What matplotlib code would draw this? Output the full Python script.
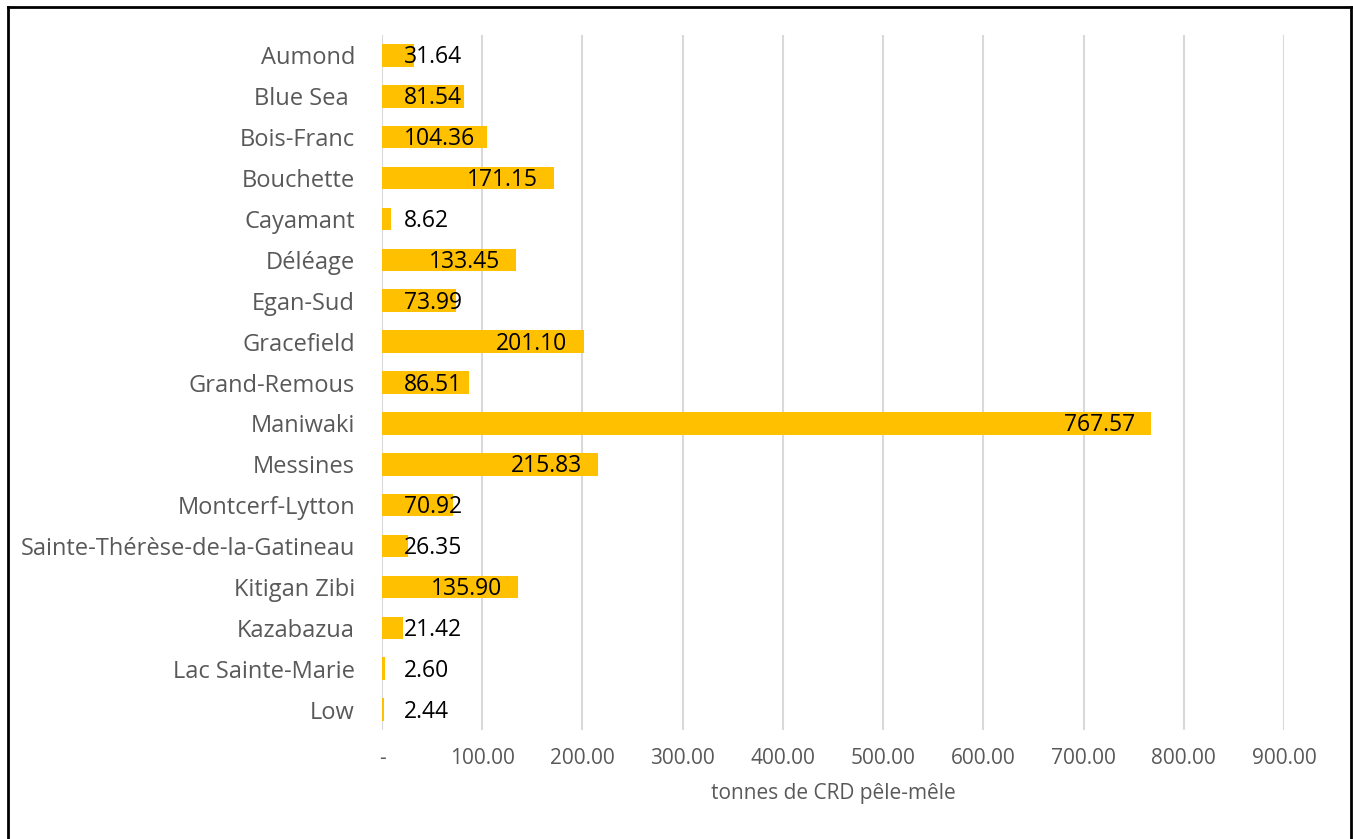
import matplotlib.pyplot as plt
import matplotlib.transforms as mtransforms
from matplotlib.lines import Line2D

#------------
# Datos
#------------
municipalites = [
    "Aumond", "Blue Sea ", "Bois-Franc", "Bouchette", "Cayamant", "Déléage",
    "Egan-Sud", "Gracefield", "Grand-Remous", "Maniwaki", "Messines",
    "Montcerf-Lytton", "Sainte-Thérèse-de-la-Gatineau", "Kitigan Zibi",
    "Kazabazua", "Lac Sainte-Marie", "Low",
]
tonnes = [
    31.64, 81.54, 104.36, 171.15, 8.62, 133.45, 73.99, 201.10, 86.51,
    767.57, 215.83, 70.92, 26.35, 135.90, 21.42, 2.60, 2.44,
]
x_ticks = [0, 100, 200, 300, 400, 500, 600, 700, 800, 900]
x_tick_labels = ["-"] + [f"{t:.2f}" for t in x_ticks[1:]]
x_label = "tonnes de CRD pêle-mêle"

plt.rcParams["font.family"] = ["Open Sans", "DejaVu Sans"]

W, H = 1353, 839
fig = plt.figure(figsize=(W / 100, H / 100), dpi=100)
ax = fig.add_axes([382 / W, 1 - 730 / H, (1284 - 382) / W, (730 - 35) / H])

pos = list(range(len(municipalites)))
ax.barh(pos, tonnes, height=0.55, color="#FFC000", zorder=2)

ax.set_ylim(len(municipalites) - 0.5, -0.5)
ax.set_xlim(0, 900)
ax.set_yticks(pos)
ax.set_yticklabels(municipalites, fontsize=17, color="#595959")
ax.set_xticks(x_ticks)
ax.set_xticklabels(x_tick_labels, fontsize=15, color="#595959")
ax.set_xlabel(x_label, fontsize=15, color="#595959", labelpad=10)
ax.tick_params(axis="both", length=0)
ax.tick_params(axis="y", pad=19.5)
ax.tick_params(axis="x", pad=13)

ax.grid(axis="x", color="#D9D9D9", linewidth=1.5, zorder=0)
for s in ax.spines.values():
    s.set_visible(False)

#--------------------------------------------------------------
# Etiquetas de valor: extremo interior, sin bajar de un mínimo
#--------------------------------------------------------------
renderer = fig.canvas.get_renderer()
px_per_unit = ax.get_window_extent().width / 900
shift = mtransforms.ScaledTranslation(0, -2 / 100, fig.dpi_scale_trans)
for p, v in zip(pos, tonnes):
    t = ax.text(0, p, f"{v:.2f}", ha="left", va="center", fontsize=16.5,
                color="black", zorder=3, transform=ax.transData + shift)
    w = t.get_window_extent(renderer).width / px_per_unit
    left = max(22 / px_per_unit, v - 16 / px_per_unit - w)
    t.set_x(left)

# Marco
lw = 2
fig.add_artist(Line2D([8 / W, 8 / W], [0, 1 - 7 / H], transform=fig.transFigure, color="black", linewidth=lw))
fig.add_artist(Line2D([1351 / W, 1351 / W], [0, 1 - 7 / H], transform=fig.transFigure, color="black", linewidth=lw))
fig.add_artist(Line2D([8 / W, 1351 / W], [1 - 7 / H, 1 - 7 / H], transform=fig.transFigure, color="black", linewidth=lw))

fig.savefig("out.png", dpi=100)
plt.close(fig)
